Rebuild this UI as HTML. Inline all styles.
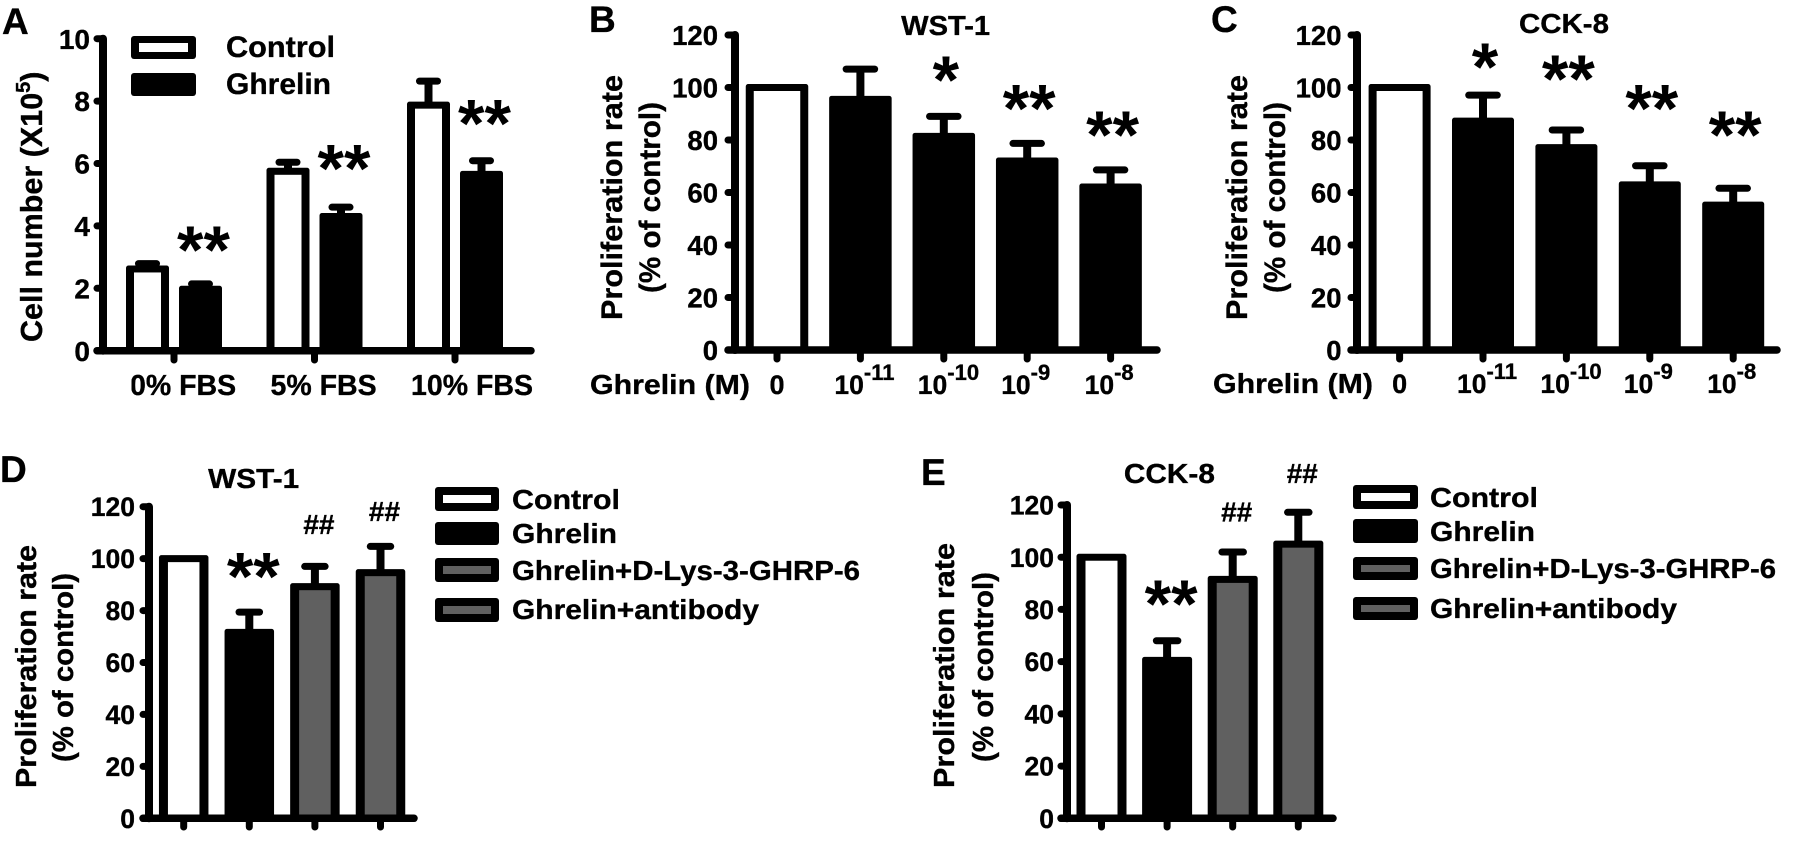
<!DOCTYPE html>
<html lang="en">
<head>
<meta charset="utf-8">
<title>Ghrelin proliferation figure</title>
<style>
html,body{margin:0;padding:0;background:#fff;width:1795px;height:844px;overflow:hidden}
svg{display:block}
text{font-family:"Liberation Sans",Arial,sans-serif;font-weight:bold;fill:#000;stroke:#000;stroke-width:.35px}
</style>
</head>
<body>
<svg id="figure" xmlns="http://www.w3.org/2000/svg" width="1795" height="844" viewBox="0 0 1795 844">
<rect width="1795" height="844" fill="#fff"/>

<text x="2" y="34" font-size="37">A</text>
<text x="589" y="32" font-size="37">B</text>
<text x="1211" y="32" font-size="37">C</text>
<text x="0" y="482" font-size="37">D</text>
<text x="921" y="485" font-size="37">E</text>

<text x="945.6" y="35" font-size="28" text-anchor="middle" textLength="89" lengthAdjust="spacingAndGlyphs">WST-1</text>
<text x="1564" y="33" font-size="28" text-anchor="middle" textLength="90" lengthAdjust="spacingAndGlyphs">CCK-8</text>
<text x="253.7" y="488" font-size="28" text-anchor="middle" textLength="91" lengthAdjust="spacingAndGlyphs">WST-1</text>
<text x="1169.4" y="483" font-size="28" text-anchor="middle" textLength="91" lengthAdjust="spacingAndGlyphs">CCK-8</text>

<text transform="translate(42 342) rotate(-90)" font-size="30.5">Cell number (X10<tspan dy="-12" font-size="20">5</tspan><tspan dy="12">)</tspan></text>

<g>
<text transform="translate(622 320) rotate(-90)" font-size="30" textLength="245" lengthAdjust="spacingAndGlyphs">Proliferation rate</text>
<text transform="translate(660 293) rotate(-90)" font-size="30" textLength="191" lengthAdjust="spacingAndGlyphs">(% of control)</text>
</g>
<g>
<text transform="translate(1247 320) rotate(-90)" font-size="30" textLength="245" lengthAdjust="spacingAndGlyphs">Proliferation rate</text>
<text transform="translate(1285 293) rotate(-90)" font-size="30" textLength="191" lengthAdjust="spacingAndGlyphs">(% of control)</text>
</g>
<g>
<text transform="translate(36 788) rotate(-90)" font-size="29" textLength="243" lengthAdjust="spacingAndGlyphs">Proliferation rate</text>
<text transform="translate(73 762) rotate(-90)" font-size="29" textLength="189" lengthAdjust="spacingAndGlyphs">(% of control)</text>
</g>
<g>
<text transform="translate(954 788) rotate(-90)" font-size="29" textLength="245" lengthAdjust="spacingAndGlyphs">Proliferation rate</text>
<text transform="translate(993 762) rotate(-90)" font-size="29" textLength="190" lengthAdjust="spacingAndGlyphs">(% of control)</text>
</g>

<text x="590" y="394" font-size="28" textLength="160" lengthAdjust="spacingAndGlyphs">Ghrelin (M)</text>
<text x="1213" y="393" font-size="28" textLength="160" lengthAdjust="spacingAndGlyphs">Ghrelin (M)</text>

<g>
<g>
<rect x="131" y="36" width="65" height="23" rx="3" fill="#000"/>
<rect x="139" y="43" width="49" height="9" fill="#fff"/>
<text x="226" y="57" font-size="30" textLength="109" lengthAdjust="spacingAndGlyphs">Control</text>
</g>
<g>
<rect x="131" y="73" width="65" height="23" rx="3" fill="#000"/>
<text x="226" y="94" font-size="30" textLength="105" lengthAdjust="spacingAndGlyphs">Ghrelin</text>
</g>
</g>

<g>
<g>
<rect x="435" y="487" width="64" height="24" rx="3" fill="#000"/>
<rect x="443" y="495" width="48" height="8" fill="#fff"/>
<text x="512" y="509" font-size="28" textLength="108" lengthAdjust="spacingAndGlyphs">Control</text>
</g>
<g>
<rect x="435" y="522" width="64" height="23" rx="3" fill="#000"/>
<text x="512" y="543" font-size="28" textLength="105" lengthAdjust="spacingAndGlyphs">Ghrelin</text>
</g>
<g>
<rect x="435" y="558" width="64" height="24" rx="3" fill="#000"/>
<rect x="443" y="566" width="48" height="8" fill="#606060"/>
<text x="512" y="580" font-size="28" textLength="348" lengthAdjust="spacingAndGlyphs">Ghrelin+D-Lys-3-GHRP-6</text>
</g>
<g>
<rect x="435" y="598" width="64" height="24" rx="3" fill="#000"/>
<rect x="443" y="606" width="48" height="8" fill="#606060"/>
<text x="512" y="619" font-size="28" textLength="247" lengthAdjust="spacingAndGlyphs">Ghrelin+antibody</text>
</g>
</g>

<g>
<g>
<rect x="1353" y="485" width="65" height="24" rx="3" fill="#000"/>
<rect x="1361" y="493" width="49" height="8" fill="#fff"/>
<text x="1430" y="507" font-size="28" textLength="108" lengthAdjust="spacingAndGlyphs">Control</text>
</g>
<g>
<rect x="1353" y="519" width="65" height="24" rx="3" fill="#000"/>
<text x="1430" y="541" font-size="28" textLength="105" lengthAdjust="spacingAndGlyphs">Ghrelin</text>
</g>
<g>
<rect x="1353" y="557" width="65" height="23" rx="3" fill="#000"/>
<rect x="1361" y="565" width="49" height="7" fill="#606060"/>
<text x="1430" y="578" font-size="28" textLength="346" lengthAdjust="spacingAndGlyphs">Ghrelin+D-Lys-3-GHRP-6</text>
</g>
<g>
<rect x="1353" y="597" width="65" height="23" rx="3" fill="#000"/>
<rect x="1361" y="605" width="49" height="7" fill="#606060"/>
<text x="1430" y="618" font-size="28" textLength="247" lengthAdjust="spacingAndGlyphs">Ghrelin+antibody</text>
</g>
</g>
</svg>

<script>
// ---- Panel A data ----
const aCategories = ['0% FBS', '5% FBS', '10% FBS'];
const aControl = [2.62, 5.75, 7.87];
const aControlErrTop = [2.79, 6.04, 8.64];
const aGhrelin = [1.97, 4.3, 5.65];
const aGhrelinErrTop = [2.14, 4.6, 6.09];
const aMarks = ['**', '**', '**'];
const aMarkLevels = [3.49, 6.11, 7.55];
const aTicks = [0, 2, 4, 6, 8, 10];

// ---- Panel B data ----
const bExponents = [null, '-11', '-10', '-9', '-8'];
const bValues = [100, 95.5, 81.4, 72, 62.1];
const bErrTop = [null, 107, 89, 78.7, 68.6];
const bMarks = ['', '', '*', '**', '**'];
const bMarkLevels = [0, 0, 106, 95.2, 85];

// ---- Panel C data ----
const cExponents = [null, '-11', '-10', '-9', '-8'];
const cValues = [100, 87.2, 77.1, 62.9, 55.2];
const cErrTop = [null, 97.1, 83.8, 70.2, 61.6];
const cMarks = ['', '*', '**', '**', '**'];
const cMarkLevels = [0, 111, 106.4, 95.2, 85];

// ---- Panel D data ----
const dValues = [100, 71.6, 89.2, 94.6];
const dErrTop = [null, 79.4, 97, 104.7];
const dMarks = ['', '**', '##', '##'];
const dMarkLevels = [0, 96.3, 113, 118];

// ---- Panel E data ----
const eValues = [100, 60.5, 91.5, 105];
const eErrTop = [null, 68, 102, 117.2];
const eMarks = ['', '**', '##', '##'];
const eMarkLevels = [0, 85.2, 117.1, 131.8];

const percentTicks = [0, 20, 40, 60, 80, 100, 120];
const fillKinds = ['white', 'black', 'gray', 'gray'];

const NS = 'http://www.w3.org/2000/svg';
const svg = document.getElementById('figure');

function mk(tag, name, attrs, parent) {
  const el = document.createElementNS(NS, tag);
  
  
  for (const k in attrs) el.setAttribute(k, attrs[k]);
  parent.appendChild(el);
  return el;
}

function drawAxes(g, ax, ticks, fs) {
  const yOf = ax.y;
  ticks.forEach(function (t) {
    mk('line', 'y-tick', {x1: ax.axisX, x2: ax.tickLeft, y1: yOf(t), y2: yOf(t), stroke: '#000', 'stroke-width': 7, 'stroke-linecap': 'round'}, g);
    const lab = mk('text', 'y-tick-label', {x: ax.labelRight, y: yOf(t) + fs * 0.36, 'font-size': fs, 'text-anchor': 'end'}, g);
    lab.textContent = String(t);
  });
  mk('line', 'y-axis-line', {x1: ax.axisX, x2: ax.axisX, y1: yOf(ticks[ticks.length - 1]), y2: yOf(0), stroke: '#000', 'stroke-width': 8, 'stroke-linecap': 'round'}, g);
  mk('line', 'x-axis-line', {x1: ax.tickLeft, x2: ax.axisEnd, y1: yOf(0), y2: yOf(0), stroke: '#000', 'stroke-width': 7.5, 'stroke-linecap': 'round'}, g);
}

function drawBar(g, ax, cx, value, errTop, kind, barName) {
  const yOf = ax.y;
  const bw = ax.barWidth;
  if (errTop !== null) {
    mk('line', barName + '-error-stem', {x1: cx, x2: cx, y1: yOf(value), y2: yOf(errTop), stroke: '#000', 'stroke-width': 8}, g);
    mk('line', barName + '-error-cap', {x1: cx - ax.capWidth / 2 + 3.5, x2: cx + ax.capWidth / 2 - 3.5, y1: yOf(errTop), y2: yOf(errTop), stroke: '#000', 'stroke-width': 7, 'stroke-linecap': 'round'}, g);
  }
  const top = yOf(value) - 3.5;
  mk('rect', barName, {x: cx - bw / 2, y: top, width: bw, height: yOf(0) - top, rx: 2.5, fill: '#000'}, g);
  if (kind !== 'black') {
    const fill = kind === 'white' ? '#fff' : '#606060';
    mk('rect', barName + '-fill', {x: cx - bw / 2 + ax.side, y: top + 7, width: bw - 2 * ax.side, height: yOf(0) - top - 7, fill: fill}, g);
  }
}

function drawMark(g, ax, cx, mark, level) {
  if (!mark) return;
  if (mark.charAt(0) === '*') {
    const fs = 68;
    const t = mk('text', 'significance-stars', {x: cx, y: ax.y(level) + fs * 0.46, 'font-size': fs, 'text-anchor': 'middle', style: 'stroke-width:0'}, g);
    t.textContent = mark;
  } else {
    const fs = 28;
    const t = mk('text', 'significance-hashes', {x: cx, y: ax.y(level) + fs * 0.32, 'font-size': fs, 'text-anchor': 'middle'}, g);
    t.textContent = mark;
  }
}

function makeAxis(o, max) {
  o.y = function (v) { return o.y0 - (v / max) * (o.y0 - o.yTop); };
  return o;
}

// Panel A
(function () {
  const g = mk('g', 'panel-a-cell-number', {}, svg);
  const ax = makeAxis({y0: 350.7, yTop: 38.7, axisX: 103, tickLeft: 97, axisEnd: 531, labelRight: 90, barWidth: 43, side: 8, capWidth: 25}, aTicks[aTicks.length - 1]);
  const groupX = function (i) { return 174 + i * 140.5; };
  aCategories.forEach(function (cat, i) {
    const cx = groupX(i);
    drawBar(g, ax, cx - 26.5, aControl[i], aControlErrTop[i], 'white', 'bar-control');
    drawBar(g, ax, cx + 26.5, aGhrelin[i], aGhrelinErrTop[i], 'black', 'bar-ghrelin');
    drawMark(g, ax, cx + 29.5, aMarks[i], aMarkLevels[i]);
    mk('line', 'x-tick', {x1: cx, x2: cx, y1: ax.y(0), y2: 360, stroke: '#000', 'stroke-width': 7, 'stroke-linecap': 'round'}, g);
    const lab = mk('text', 'x-tick-label', {x: cx - 44, y: 395, 'font-size': 28.5}, g);
    lab.textContent = cat;
  });
  mk('rect', 'x-tick-label-clip', {x: 124, y: 372, width: 7.5, height: 28, fill: '#fff'}, g);
  drawAxes(g, ax, aTicks, 28);
})();

function exponentPanel(name, layout, values, errTop, marks, levels, exps) {
  const g = mk('g', name, {}, svg);
  const ax = makeAxis(layout, percentTicks[percentTicks.length - 1]);
  values.forEach(function (v, i) {
    const cx = layout.first + i * layout.step;
    drawBar(g, ax, cx, v, errTop[i], i === 0 ? 'white' : 'black', i === 0 ? 'bar-control' : 'bar-ghrelin');
    drawMark(g, ax, cx + 2, marks[i], levels[i]);
    mk('line', 'x-tick', {x1: cx, x2: cx, y1: ax.y(0), y2: 359, stroke: '#000', 'stroke-width': 7, 'stroke-linecap': 'round'}, g);
    if (exps[i] === null) {
      const z = mk('text', 'x-tick-label', {x: cx, y: layout.labelY, 'font-size': 27, 'text-anchor': 'middle'}, g);
      z.textContent = '0';
    } else {
      const lab = mk('text', 'x-tick-label', {x: cx - 26, y: layout.labelY, 'font-size': 26.5}, g);
      const base = document.createTextNode('10');
      lab.appendChild(base);
      const sup = mk('tspan', 'x-tick-exponent', {dy: -14, 'font-size': 22}, lab);
      sup.textContent = exps[i];
    }
  });
  drawAxes(g, ax, percentTicks, 27.5);
}

exponentPanel('panel-b-wst1', {y0: 350, yTop: 35, axisX: 735, tickLeft: 728, axisEnd: 1157, labelRight: 718, barWidth: 62.5, side: 8, capWidth: 35.5, first: 777, step: 83.4, labelY: 394}, bValues, bErrTop, bMarks, bMarkLevels, bExponents);
exponentPanel('panel-c-cck8', {y0: 350, yTop: 35, axisX: 1357, tickLeft: 1351, axisEnd: 1777, labelRight: 1341.5, barWidth: 62, side: 8, capWidth: 35.5, first: 1399.6, step: 83.4, labelY: 393}, cValues, cErrTop, cMarks, cMarkLevels, cExponents);

function treatmentPanel(name, layout, values, errTop, marks, levels) {
  const g = mk('g', name, {}, svg);
  const ax = makeAxis(layout, percentTicks[percentTicks.length - 1]);
  values.forEach(function (v, i) {
    const cx = layout.first + i * layout.step;
    drawBar(g, ax, cx, v, errTop[i], fillKinds[i], 'bar-' + fillKinds[i]);
    drawMark(g, ax, cx + 4, marks[i], levels[i]);
    mk('line', 'x-tick', {x1: cx, x2: cx, y1: ax.y(0), y2: layout.tickBottom, stroke: '#000', 'stroke-width': 7, 'stroke-linecap': 'round'}, g);
  });
  drawAxes(g, ax, percentTicks, 26.5);
}

treatmentPanel('panel-d-wst1', {y0: 818.3, yTop: 506.7, axisX: 149, tickLeft: 143, axisEnd: 414, labelRight: 135, barWidth: 49.5, side: 9, capWidth: 27.5, first: 183.7, step: 65.6, tickBottom: 827}, dValues, dErrTop, dMarks, dMarkLevels);
treatmentPanel('panel-e-cck8', {y0: 818.3, yTop: 505, axisX: 1067, tickLeft: 1061, axisEnd: 1333, labelRight: 1054, barWidth: 50, side: 9, capWidth: 28.5, first: 1101.5, step: 65.6, tickBottom: 827}, eValues, eErrTop, eMarks, eMarkLevels);
</script>
</body>
</html>
